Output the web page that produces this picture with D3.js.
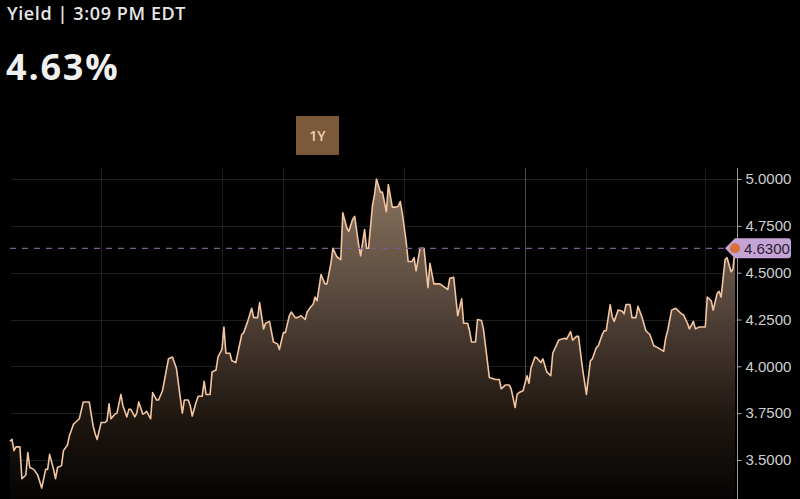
<!DOCTYPE html>
<html>
<head>
<meta charset="utf-8">
<script src="https://cdn.jsdelivr.net/npm/d3@7"></script>
<style>
  html, body { margin: 0; padding: 0; background: #000; }
  svg { display: block; }
</style>
</head>
<body>
<svg id="chart" width="800" height="499"></svg>
<script>
// ---- data ----
const dates = [
"2023-04-16","2023-04-17","2023-04-18","2023-04-19","2023-04-21","2023-04-22","2023-04-24","2023-04-25","2023-04-26","2023-04-28",
"2023-04-30","2023-05-02","2023-05-04","2023-05-05","2023-05-06","2023-05-08","2023-05-09","2023-05-10","2023-05-12","2023-05-13",
"2023-05-15","2023-05-16","2023-05-18","2023-05-19","2023-05-21","2023-05-23","2023-05-26","2023-05-28","2023-05-29","2023-05-30",
"2023-06-01","2023-06-03","2023-06-04","2023-06-05","2023-06-06","2023-06-08","2023-06-09","2023-06-11","2023-06-12","2023-06-14",
"2023-06-15","2023-06-16","2023-06-18","2023-06-19","2023-06-20","2023-06-22","2023-06-23","2023-06-24","2023-06-26","2023-06-27",
"2023-06-29","2023-06-30","2023-07-02","2023-07-05","2023-07-07","2023-07-09","2023-07-12","2023-07-13","2023-07-15","2023-07-16",
"2023-07-17","2023-07-19","2023-07-20","2023-07-22","2023-07-23","2023-07-24","2023-07-26","2023-07-27","2023-07-29","2023-07-30",
"2023-08-01","2023-08-02","2023-08-03","2023-08-05","2023-08-06","2023-08-08","2023-08-09","2023-08-11","2023-08-12","2023-08-14",
"2023-08-16","2023-08-17","2023-08-19","2023-08-20","2023-08-22","2023-08-23","2023-08-25","2023-08-27","2023-08-29","2023-08-30",
"2023-09-01","2023-09-02","2023-09-04","2023-09-05","2023-09-07","2023-09-08","2023-09-10","2023-09-12","2023-09-13","2023-09-15",
"2023-09-16","2023-09-17","2023-09-18","2023-09-20","2023-09-22","2023-09-23","2023-09-25","2023-09-26","2023-09-28","2023-09-30",
"2023-10-01","2023-10-03","2023-10-04","2023-10-06","2023-10-07","2023-10-09","2023-10-10","2023-10-12","2023-10-13","2023-10-14",
"2023-10-16","2023-10-17","2023-10-18","2023-10-20","2023-10-21","2023-10-23","2023-10-24","2023-10-26","2023-10-28","2023-10-29",
"2023-10-30","2023-10-31","2023-11-02","2023-11-03","2023-11-05","2023-11-06","2023-11-07","2023-11-09","2023-11-11","2023-11-13",
"2023-11-14","2023-11-16","2023-11-19","2023-11-21","2023-11-23","2023-11-24","2023-11-26","2023-11-28","2023-11-30","2023-12-01",
"2023-12-03","2023-12-04","2023-12-05","2023-12-07","2023-12-08","2023-12-10","2023-12-11","2023-12-14","2023-12-17","2023-12-19",
"2023-12-20","2023-12-22","2023-12-24","2023-12-25","2023-12-27","2023-12-28","2023-12-29","2023-12-31","2024-01-02","2024-01-03",
"2024-01-04","2024-01-06","2024-01-07","2024-01-09","2024-01-10","2024-01-12","2024-01-14","2024-01-15","2024-01-18","2024-01-21",
"2024-01-22","2024-01-24","2024-01-25","2024-01-27","2024-01-28","2024-01-30","2024-02-01","2024-02-03","2024-02-04","2024-02-06",
"2024-02-07","2024-02-09","2024-02-10","2024-02-11","2024-02-13","2024-02-14","2024-02-15","2024-02-17","2024-02-19","2024-02-20",
"2024-02-21","2024-02-23","2024-02-24","2024-02-26","2024-02-27","2024-02-29","2024-03-02","2024-03-04","2024-03-06","2024-03-08",
"2024-03-11","2024-03-12","2024-03-13","2024-03-15","2024-03-17","2024-03-18","2024-03-20","2024-03-21","2024-03-23","2024-03-24",
"2024-03-26","2024-03-27","2024-03-29","2024-04-01","2024-04-02","2024-04-04","2024-04-05","2024-04-07","2024-04-08","2024-04-09",
"2024-04-11","2024-04-12","2024-04-14","2024-04-15","2024-04-16"
];
const yields = [
3.60,3.61,3.55,3.57,3.57,3.40,3.42,3.54,3.46,3.45,
3.42,3.35,3.45,3.45,3.53,3.45,3.40,3.46,3.47,3.55,
3.58,3.63,3.69,3.70,3.72,3.81,3.81,3.68,3.64,3.61,
3.70,3.70,3.71,3.80,3.72,3.745,3.75,3.85,3.79,3.73,
3.77,3.77,3.73,3.75,3.81,3.745,3.75,3.76,3.72,3.86,
3.82,3.82,3.87,4.04,4.05,3.99,3.75,3.82,3.82,3.79,
3.735,3.81,3.84,3.84,3.92,3.85,3.85,3.97,3.98,4.05,
4.09,4.21,4.07,4.07,4.03,4.02,4.07,4.17,4.18,4.24,
4.31,4.26,4.26,4.34,4.20,4.23,4.24,4.13,4.12,4.09,
4.18,4.18,4.27,4.29,4.26,4.26,4.27,4.25,4.29,4.32,
4.33,4.37,4.35,4.49,4.44,4.44,4.55,4.63,4.585,4.57,
4.82,4.74,4.72,4.785,4.80,4.65,4.59,4.73,4.63,4.63,
4.86,4.915,5.00,4.93,4.93,4.825,4.97,4.85,4.85,4.855,
4.88,4.82,4.665,4.56,4.56,4.58,4.51,4.63,4.63,4.42,
4.55,4.44,4.44,4.425,4.41,4.47,4.475,4.27,4.36,4.23,
4.23,4.19,4.13,4.13,4.25,4.245,4.20,3.94,3.93,3.93,
3.88,3.90,3.90,3.88,3.78,3.85,3.86,3.87,3.95,3.91,
3.99,4.05,4.045,4.02,4.04,3.97,3.95,4.07,4.14,4.15,
4.145,4.185,4.14,4.16,4.16,3.99,3.85,4.03,4.04,4.10,
4.11,4.17,4.19,4.19,4.33,4.265,4.24,4.30,4.295,4.28,
4.33,4.33,4.26,4.26,4.32,4.265,4.19,4.17,4.11,4.10,
4.08,4.15,4.19,4.30,4.31,4.30,4.28,4.275,4.23,4.20,
4.24,4.20,4.21,4.21,4.37,4.35,4.30,4.39,4.40,4.37,
4.57,4.58,4.505,4.52,4.63
];
const yTicks = [3.5, 3.75, 4.0, 4.25, 4.5, 4.75, 5.0];
const gridDates = ["2023-06-01","2023-08-01","2023-09-01","2023-11-01","2024-01-01","2024-02-01","2024-04-01"];
const yearBoundary = "2024-01-01";
const lastValue = 4.63;
const headerText = "Yield | 3:09 PM EDT";
const bigText = "4.63%";
const rangeLabel = "1Y";

// ---- drawing ----
const parse = d3.timeParse("%Y-%m-%d");
const data = dates.map((d, i) => ({ date: parse(d), value: yields[i] }));

const svg = d3.select("#chart");
const W = 800, H = 499;

const x = d3.scaleTime()
  .domain([parse("2023-04-16"), parse("2024-04-16")])
  .range([10, 735]);
const y = d3.scaleLinear().domain([3.5, 5.0]).range([460, 179]);

const defs = svg.append("defs");
const grad = defs.append("linearGradient")
  .attr("id", "fillGrad")
  .attr("gradientUnits", "userSpaceOnUse")
  .attr("x1", 0).attr("x2", 0).attr("y1", 179).attr("y2", 499);
grad.append("stop").attr("offset", "0%").attr("stop-color", "#8a745e");
grad.append("stop").attr("offset", "40%").attr("stop-color", "#54443a");
grad.append("stop").attr("offset", "75%").attr("stop-color", "#1e1610");
grad.append("stop").attr("offset", "100%").attr("stop-color", "#050403");

svg.append("rect").attr("width", W).attr("height", H).attr("fill", "#000");

// horizontal grid
svg.append("g").selectAll("line").data(yTicks).join("line")
  .attr("x1", 11).attr("x2", 737)
  .attr("y1", d => Math.round(y(d)) + 0.5).attr("y2", d => Math.round(y(d)) + 0.5)
  .attr("stroke", "#1f1f1f").attr("stroke-width", 1);

// vertical grid
svg.append("g").selectAll("line").data(gridDates).join("line")
  .attr("x1", d => Math.round(x(parse(d))) + 0.5).attr("x2", d => Math.round(x(parse(d))) + 0.5)
  .attr("y1", 168).attr("y2", H)
  .attr("stroke", d => d === yearBoundary ? "#4a4a4a" : "#1f1f1f").attr("stroke-width", 1);

// area
const area = d3.area().x(d => x(d.date)).y0(H).y1(d => y(d.value)).curve(d3.curveLinear);
svg.append("path").datum(data).attr("d", area).attr("fill", "url(#fillGrad)");

// line
const line = d3.line().x(d => x(d.date)).y(d => y(d.value));
svg.append("path").datum(data).attr("d", line)
  .attr("fill", "none").attr("stroke", "#f3c5a0").attr("stroke-width", 1.6)
  .attr("stroke-linejoin", "round");

// dashed last value line
svg.append("line")
  .attr("x1", 10).attr("x2", 726)
  .attr("y1", y(lastValue)).attr("y2", y(lastValue))
  .attr("stroke", "#7b5a8c").attr("stroke-width", 1.2).attr("stroke-dasharray", "6,6");

// right axis
const axis = d3.axisRight(y).tickValues(yTicks).tickFormat(d3.format(".4f")).tickSize(4).tickPadding(4);
const gAxis = svg.append("g").attr("transform", "translate(737.5,0)").call(axis);
gAxis.select(".domain").remove();
gAxis.selectAll(".tick line").attr("stroke", "#aaa");
gAxis.selectAll(".tick text")
  .attr("fill", "#cfcfcf").attr("font-family", "Liberation Sans, Arial, sans-serif").attr("font-size", 15);
svg.append("line").attr("x1", 737.5).attr("x2", 737.5).attr("y1", 168).attr("y2", H)
  .attr("stroke", "#9a9a9a").attr("stroke-width", 1);

// last value label
const ly = y(lastValue);
svg.append("path")
  .attr("d", `M725,${ly} L735,${ly - 10} L788,${ly - 10} Q791,${ly - 10} 791,${ly - 7} L791,${ly + 7} Q791,${ly + 10} 788,${ly + 10} L735,${ly + 10} Z`)
  .attr("fill", "#c6a3d6");
svg.append("text").attr("x", 744).attr("y", ly + 5.5)
  .attr("fill", "#2a2030").attr("font-family", "Liberation Sans, Arial, sans-serif").attr("font-size", 15)
  .text(d3.format(".4f")(lastValue));
svg.append("circle").attr("cx", x(data[data.length - 1].date)).attr("cy", ly).attr("r", 5)
  .attr("fill", "#d8703c");

// range button
svg.append("rect").attr("x", 296).attr("y", 116).attr("width", 43).attr("height", 39).attr("fill", "#7a5a3b");
svg.append("text").attr("x", 317.5).attr("y", 141).attr("text-anchor", "middle")
  .attr("fill", "#f2cfb4").attr("font-family", "Open Sans, sans-serif").attr("font-weight", 600).attr("font-size", 14)
  .text(rangeLabel);

// header
svg.append("text").attr("x", 7).attr("y", 20)
  .attr("fill", "#e6e6e6").attr("font-family", "Open Sans, sans-serif").attr("font-weight", 600)
  .attr("font-size", 18).attr("letter-spacing", 0.6)
  .text(headerText);
svg.append("text").attr("x", 6).attr("y", 80)
  .attr("fill", "#f0f0f0").attr("font-family", "Open Sans, sans-serif").attr("font-weight", "bold")
  .attr("font-size", 36).attr("letter-spacing", 1.8)
  .text(bigText);
</script>
</body>
</html>
